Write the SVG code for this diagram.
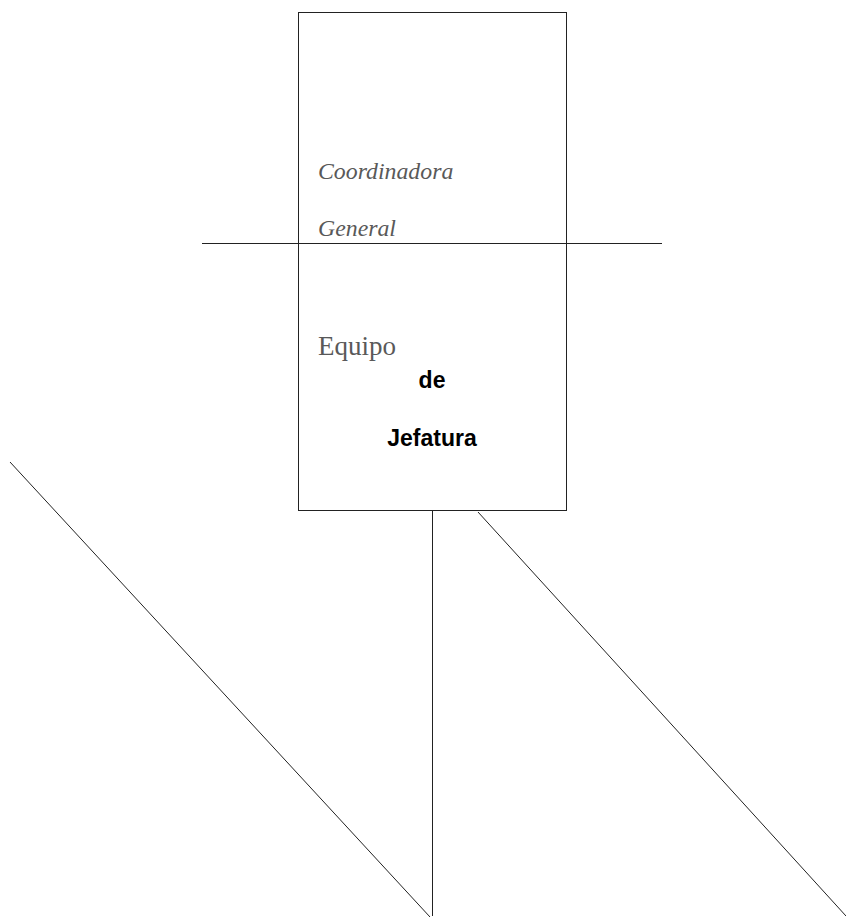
<svg xmlns="http://www.w3.org/2000/svg" width="846" height="919" viewBox="0 0 846 919">
<style>
.ln{stroke:#222;stroke-width:1;fill:none}
.it{font-family:"Liberation Serif",serif;font-style:italic;fill:#595959;font-size:23.8px}
.rg{font-family:"Liberation Serif",serif;fill:#595959;font-size:27px}
.bd{font-family:"Liberation Sans",Arial,sans-serif;font-weight:bold;fill:#000;font-size:23px}
</style>
<rect width="846" height="919" fill="#fff"/>
<g id="node-coordinadora">
<rect class="ln" x="298.5" y="12.5" width="268" height="498"/>
<text class="it" x="318" y="179">Coordinadora</text>
<text class="it" x="318" y="236">General</text>
</g>
<g id="node-equipo">
<text class="rg" x="318" y="355">Equipo</text>
<text class="bd" x="432" y="388" text-anchor="middle">de</text>
<text class="bd" x="432" y="446" text-anchor="middle">Jefatura</text>
</g>
<g id="connectors">
<line class="ln" x1="202" y1="243.5" x2="662" y2="243.5"/>
<line class="ln" x1="432.5" y1="511" x2="432.5" y2="916"/>
<line class="ln" x1="10" y1="462" x2="430" y2="917"/>
<line class="ln" x1="478" y1="512" x2="846" y2="916"/>
</g>
</svg>
